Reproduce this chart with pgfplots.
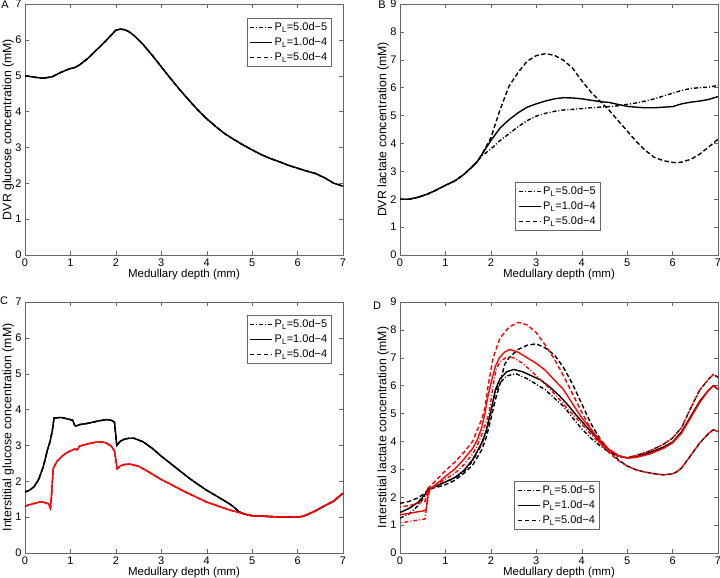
\documentclass[border=0pt]{standalone}
\usepackage{pgfplots}
\pgfplotsset{compat=1.18}
\usepackage{pgfplotstable}
\usepackage{fontspec}
\setmainfont{Liberation Sans}

% ---------- Panel A: DVR glucose (all three coincide)
\pgfplotstableread{
x y
0 5.0
0.2 4.96
0.4 4.93
0.6 4.97
0.8 5.1
1.0 5.2
1.1 5.23
1.2 5.3
1.4 5.5
1.6 5.75
1.8 6.0
2.0 6.27
2.1 6.3
2.2 6.28
2.3 6.22
2.4 6.12
2.5 6.0
2.6 5.87
2.8 5.57
3.0 5.25
3.2 4.93
3.4 4.62
3.6 4.33
3.8 4.05
4.0 3.8
4.2 3.58
4.4 3.38
4.6 3.22
4.8 3.07
5.0 2.93
5.2 2.8
5.4 2.69
5.6 2.6
5.8 2.5
6.0 2.42
6.2 2.34
6.4 2.27
6.6 2.15
6.8 2.0
7.0 1.92
}\Aglu

% ---------- Panel B: DVR lactate
\pgfplotstableread{
x y
0 2.0
0.2 2.0
0.4 2.07
0.6 2.18
0.8 2.33
1.0 2.5
1.2 2.65
1.4 2.88
1.6 3.18
1.7 3.35
1.8 3.55
2.0 3.8
2.2 4.1
2.4 4.35
2.6 4.6
2.8 4.82
3.0 4.98
3.2 5.08
3.4 5.15
3.6 5.2
3.8 5.22
4.0 5.25
4.2 5.28
4.4 5.3
4.6 5.32
4.8 5.35
5.0 5.4
5.2 5.45
5.4 5.52
5.6 5.6
5.8 5.7
6.0 5.8
6.2 5.9
6.4 5.97
6.6 6.0
6.8 6.02
7.0 6.08
}\Bdd
\pgfplotstableread{
x y
0 2.0
0.2 2.0
0.4 2.07
0.6 2.18
0.8 2.33
1.0 2.5
1.2 2.65
1.4 2.88
1.6 3.18
1.7 3.35
1.8 3.6
2.0 4.1
2.2 4.55
2.4 4.85
2.6 5.1
2.8 5.3
3.0 5.42
3.2 5.52
3.4 5.6
3.6 5.64
3.8 5.63
4.0 5.6
4.2 5.55
4.4 5.5
4.6 5.47
4.8 5.4
5.0 5.33
5.2 5.3
5.4 5.28
5.6 5.28
5.8 5.3
6.0 5.32
6.2 5.42
6.4 5.48
6.6 5.52
6.8 5.58
7.0 5.68
}\Bs
\pgfplotstableread{
x y
0 2.0
0.2 2.0
0.4 2.07
0.6 2.18
0.8 2.33
1.0 2.5
1.2 2.65
1.4 2.88
1.6 3.18
1.7 3.35
1.8 3.6
2.0 4.2
2.2 5.2
2.4 6.05
2.6 6.55
2.8 6.95
3.0 7.15
3.2 7.22
3.4 7.16
3.6 6.98
3.8 6.7
4.0 6.25
4.2 5.85
4.4 5.52
4.6 5.2
4.8 4.82
5.0 4.45
5.2 4.07
5.4 3.75
5.6 3.5
5.8 3.38
6.0 3.32
6.1 3.31
6.2 3.33
6.4 3.43
6.6 3.62
6.8 3.88
7.0 4.15
}\Bd

% ---------- Panel C: interstitial glucose
\pgfplotstableread{
x y
0 1.7
0.1 1.75
0.2 1.85
0.3 2.05
0.4 2.4
0.45 2.65
0.5 2.9
0.55 3.1
0.6 3.4
0.64 3.77
0.7 3.77
0.8 3.78
0.9 3.75
1.0 3.72
1.05 3.7
1.1 3.55
1.15 3.55
1.2 3.58
1.4 3.62
1.6 3.68
1.8 3.72
1.9 3.7
1.97 3.65
2.02 3.0
2.1 3.12
2.2 3.18
2.3 3.2
2.4 3.2
2.6 3.1
2.8 2.92
3.0 2.7
3.2 2.5
3.4 2.3
3.6 2.1
3.8 1.92
4.0 1.75
4.2 1.6
4.4 1.45
4.5 1.37
4.6 1.28
4.7 1.16
4.8 1.1
4.9 1.06
5.0 1.04
5.5 1.01
6.0 1.0
6.1 1.02
6.2 1.06
6.4 1.18
6.6 1.32
6.8 1.45
7.0 1.67
}\Cblack
\pgfplotstableread{
x y
0 1.3
0.1 1.35
0.2 1.38
0.35 1.43
0.45 1.4
0.52 1.37
0.56 1.25
0.59 1.7
0.62 2.35
0.7 2.55
0.8 2.68
0.9 2.78
1.0 2.85
1.1 2.9
1.15 2.88
1.2 2.98
1.4 3.05
1.6 3.1
1.7 3.1
1.8 3.06
1.9 2.98
1.97 2.85
2.03 2.35
2.1 2.43
2.2 2.47
2.3 2.48
2.5 2.42
2.7 2.28
2.8 2.2
3.0 2.05
3.2 1.92
3.5 1.72
4.0 1.42
4.5 1.2
4.8 1.1
5.0 1.04
5.5 1.01
6.0 1.0
6.1 1.02
6.2 1.06
6.4 1.18
6.6 1.32
6.8 1.45
7.0 1.67
}\Cred

% ---------- Panel D: interstitial lactate
\pgfplotstableread{
x y
0 1.25
0.2 1.4
0.4 1.7
0.55 2.05
0.63 2.3
0.8 2.4
1.0 2.55
1.2 2.68
1.4 2.9
1.6 3.3
1.8 3.9
1.9 4.35
2.0 5.0
2.1 5.75
2.2 6.1
2.35 6.35
2.55 6.43
2.8 6.25
3.0 6.05
3.2 5.85
3.4 5.55
3.6 5.26
3.8 4.85
4.0 4.45
4.2 4.12
4.4 3.85
4.6 3.62
4.8 3.46
5.0 3.42
5.2 3.5
5.5 3.66
5.8 3.9
6.0 4.12
6.2 4.5
6.4 5.2
6.6 5.85
6.8 6.25
6.9 6.4
7.0 6.3
}\Dbdd
\pgfplotstableread{
x y
0 1.45
0.2 1.6
0.4 1.82
0.55 2.1
0.63 2.3
0.8 2.4
1.0 2.55
1.2 2.7
1.4 2.95
1.6 3.35
1.8 3.95
1.9 4.4
2.0 5.1
2.1 5.85
2.2 6.25
2.35 6.5
2.5 6.58
2.7 6.5
2.9 6.35
3.1 6.2
3.3 5.95
3.5 5.65
3.7 5.3
3.85 5.0
4.0 4.72
4.2 4.35
4.4 4.0
4.6 3.7
4.8 3.5
5.0 3.4
5.2 3.45
5.5 3.6
5.8 3.8
6.0 3.98
6.2 4.35
6.4 4.9
6.6 5.45
6.8 5.85
6.9 6.0
7.0 5.88
}\Dbs
\pgfplotstableread{
x y
0 1.78
0.2 1.85
0.4 1.98
0.55 2.15
0.63 2.3
0.8 2.35
1.0 2.45
1.2 2.6
1.4 2.85
1.6 3.15
1.8 3.7
1.9 4.15
2.0 4.8
2.1 5.5
2.2 6.05
2.3 6.75
2.4 7.0
2.6 7.3
2.8 7.45
3.0 7.5
3.2 7.35
3.4 7.1
3.6 6.65
3.8 6.05
4.0 5.35
4.2 4.65
4.4 4.1
4.6 3.7
4.8 3.35
5.0 3.12
5.2 2.98
5.4 2.9
5.6 2.84
5.8 2.8
6.0 2.84
6.1 2.92
6.2 3.05
6.4 3.5
6.6 3.95
6.8 4.3
6.9 4.42
7.0 4.35
}\Dbd
\pgfplotstableread{
x y
0 1.08
0.2 1.13
0.4 1.18
0.55 1.22
0.6 1.8
0.65 2.25
0.8 2.45
1.0 2.65
1.2 2.85
1.4 3.15
1.6 3.55
1.7 3.85
1.8 4.25
1.9 4.7
1.96 5.0
2.05 6.0
2.12 6.6
2.2 6.85
2.34 7.02
2.5 7.0
2.7 6.8
2.93 6.46
3.2 6.05
3.45 5.62
3.7 5.15
3.9 4.8
4.0 4.62
4.2 4.25
4.4 3.92
4.6 3.65
4.8 3.48
5.0 3.42
5.2 3.5
5.5 3.66
5.8 3.9
6.0 4.12
6.2 4.5
6.4 5.2
6.6 5.85
6.8 6.25
6.9 6.4
7.0 6.3
}\Drdd
\pgfplotstableread{
x y
0 1.37
0.2 1.42
0.4 1.48
0.55 1.52
0.58 1.6
0.62 2.2
0.7 2.35
0.9 2.6
1.0 2.75
1.2 3.0
1.4 3.35
1.6 3.75
1.7 4.05
1.8 4.5
1.87 5.0
1.92 5.5
1.99 6.0
2.1 6.7
2.19 7.0
2.3 7.2
2.42 7.3
2.6 7.2
2.8 7.0
3.0 6.8
3.2 6.55
3.4 6.2
3.6 5.86
3.8 5.35
4.0 4.85
4.2 4.45
4.4 4.05
4.6 3.72
4.8 3.5
5.0 3.4
5.2 3.43
5.5 3.55
5.8 3.75
6.0 3.95
6.2 4.3
6.4 4.85
6.6 5.4
6.8 5.85
6.9 6.0
7.0 5.86
}\Drs
\pgfplotstableread{
x y
0 1.65
0.2 1.7
0.4 1.78
0.55 1.85
0.6 2.3
0.7 2.45
1.0 2.95
1.2 3.25
1.4 3.6
1.6 4.0
1.7 4.4
1.8 4.8
1.87 5.2
1.94 6.0
2.05 7.0
2.2 7.7
2.4 8.1
2.6 8.27
2.8 8.18
3.0 7.9
3.2 7.45
3.4 6.95
3.6 6.35
3.8 5.7
4.0 5.05
4.2 4.45
4.4 3.95
4.6 3.6
4.8 3.32
5.0 3.12
5.2 2.98
5.4 2.9
5.6 2.84
5.8 2.8
6.0 2.84
6.1 2.92
6.2 3.05
6.4 3.5
6.6 3.95
6.8 4.3
6.9 4.42
7.0 4.35
}\Drd

\pgfplotsset{
  panel/.style={
    width=318pt, height=251pt, scale only axis,
    xmin=0, xmax=7, xtick={0,...,7},
    axis line style={black!60},
    tick style={black!60, line width=0.4pt},
    major tick length=4pt,
    tick align=inside,
    ticklabel style={font=\fontsize{11}{13}\selectfont},
    /pgf/number format/assume math mode=true,
    xlabel={Medullary depth (mm)},
    xlabel style={font=\fontsize{11.5}{13}\selectfont, at={(axis description cs:0.5,-0.078)}, anchor=center},
    ylabel style={font=\fontsize{12.3}{14}\selectfont, at={(axis description cs:-0.053,0.5)}, anchor=center},
    legend style={draw=black!60, font=\fontsize{11}{13}\selectfont, cells={anchor=west}, row sep=1.5pt, inner sep=2.5pt},
    legend cell align=left,
    legend image code/.code={\draw[##1] (0pt,0pt) -- (22pt,0pt);},
  },
  dd/.style={line width=1.4pt, dash pattern=on 4pt off 2pt on 1pt off 2pt},
  ss/.style={line width=1.4pt},
  ds/.style={line width=1.4pt, dash pattern=on 4.5pt off 2.5pt},
}

\begin{document}
\begin{tikzpicture}
\path[use as bounding box] (0pt,0pt) rectangle (720pt,578pt);

% ---------------- A
\begin{axis}[panel, at={(25pt,574pt)}, anchor=north west,
  ymin=0, ymax=7, ytick={0,...,7},
  ylabel={DVR glucose concentration (mM)},
  legend style={at={(0.965,0.944)}, anchor=north east}]
\addplot[black, dd] table {\Aglu};
\addplot[black, ss] table {\Aglu};
\addplot[black, ds] table {\Aglu};
\legend{P\textsubscript{L}=5.0d−5, P\textsubscript{L}=1.0d−4, P\textsubscript{L}=5.0d−4}
\end{axis}

% ---------------- B
\begin{axis}[panel, at={(400pt,574pt)}, anchor=north west,
  ymin=0, ymax=9, ytick={0,...,9},
  ylabel={DVR lactate concentration (mM)},
  legend style={at={(0.362,0.291)}, anchor=north west}]
\addplot[black, dd] table {\Bdd};
\addplot[black, ss] table {\Bs};
\addplot[black, ds] table {\Bd};
\legend{P\textsubscript{L}=5.0d−5, P\textsubscript{L}=1.0d−4, P\textsubscript{L}=5.0d−4}
\end{axis}

% ---------------- C
\begin{axis}[panel, at={(25pt,276pt)}, anchor=north west,
  ymin=0, ymax=7, ytick={0,...,7},
  ylabel={Interstitial glucose concentration (mM)},
  legend style={at={(0.965,0.948)}, anchor=north east}]
\addplot[black, dd] table {\Cblack};
\addplot[black, ss] table {\Cblack};
\addplot[black, ds] table {\Cblack};
\addplot[red, dd, forget plot] table {\Cred};
\addplot[red, ss, forget plot] table {\Cred};
\addplot[red, ds, forget plot] table {\Cred};
\legend{P\textsubscript{L}=5.0d−5, P\textsubscript{L}=1.0d−4, P\textsubscript{L}=5.0d−4}
\end{axis}

% ---------------- D
\begin{axis}[panel, at={(400pt,276pt)}, anchor=north west,
  ymin=0, ymax=9, ytick={0,...,9},
  ylabel={Interstitial lactate concentration (mM)},
  legend style={at={(0.36,0.287)}, anchor=north west}]
\addplot[black, dd] table {\Dbdd};
\addplot[black, ss] table {\Dbs};
\addplot[black, ds] table {\Dbd};
\addplot[red, dd, dash phase=4.5pt, forget plot] table {\Drdd};
\addplot[red, ss, forget plot] table {\Drs};
\addplot[red, ds, dash phase=3.5pt, forget plot] table {\Drd};
\legend{P\textsubscript{L}=5.0d−5, P\textsubscript{L}=1.0d−4, P\textsubscript{L}=5.0d−4}
\end{axis}

\node[font=\fontsize{11}{12}\selectfont] at (5pt,573pt) {A};
\node[font=\fontsize{11}{12}\selectfont] at (382pt,573pt) {B};
\node[font=\fontsize{11}{12}\selectfont] at (4pt,277pt) {C};
\node[font=\fontsize{11}{12}\selectfont] at (377pt,272pt) {D};
\end{tikzpicture}
\end{document}
